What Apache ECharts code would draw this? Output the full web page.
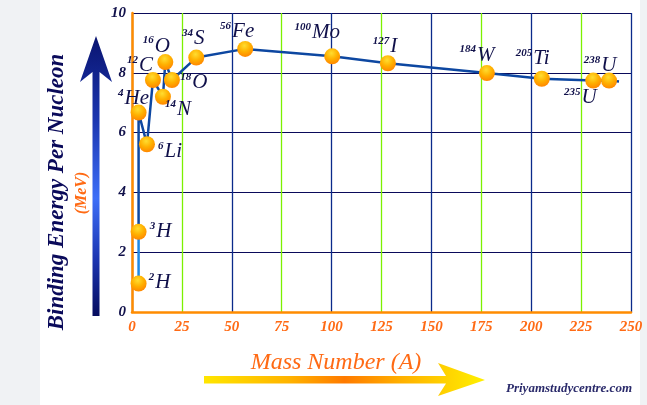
<!DOCTYPE html>
<html>
<head>
<meta charset="utf-8">
<script src="https://cdn.jsdelivr.net/npm/echarts@6/dist/echarts.min.js"></script>
<style>
html,body{margin:0;padding:0;}
#chart{width:647px;height:405px;background:linear-gradient(to right,#f0f2f4 0,#f0f2f4 40px,#ffffff 40px,#ffffff 640px,#f0f2f4 640px);}
</style>
</head>
<body>
<div id="chart"></div>
<script>
// ---- data ----
const massNumbers   = [3.3, 3.3, 3.3, 7.5, 10.5, 15.5, 16.7, 20, 32.2, 56.7, 100.3, 128.2, 177.8, 205.3, 231.1, 239];
const bindingEnergy = [0.95, 2.68, 6.67, 5.61, 7.76, 7.2, 8.36, 7.76, 8.51, 8.8, 8.55, 8.32, 7.99, 7.8, 7.74, 7.74];
const isotopeMass   = ['2', '3', '4', '6', '12', '14', '16', '18', '34', '56', '100', '127', '184', '205', '235', '238'];
const elementSymbol = ['H', 'H', 'He', 'Li', 'C', 'N', 'O', 'O', 'S', 'Fe', 'Mo', 'I', 'W', 'Ti', 'U', 'U'];
const curveTailMass   = [244];
const curveTailEnergy = [7.71];
const xAxisRange = [0, 250, 25];
const yAxisRange = [0, 10, 2];
const yTitle = 'Binding Energy Per Nucleon';
const yUnit = '(MeV)';
const xTitle = 'Mass Number (A)';
const credit = 'Priyamstudycentre.com';

// ---- layout (label offsets from each point, px) ----
const labelOffsets = [[21,-1],[22,0],[-5,-14],[23,7],[-13,-14],[15,13],[-9,-16],[22,3],[-3,-19],[-8,-17],[-15,-24],[-3,-17],[-10,-18],[-9,-20],[-13,17],[-9,-15]];

const FONT = '"Liberation Serif", "DejaVu Serif", serif';
const NAVY = '#10104a';
const ORANGE = '#ff6a14';

const pts = massNumbers.map((m, i) => [m, bindingEnergy[i]]);
const lightSeg = pts.slice(0, 2);
const darkSeg = pts.slice(1).concat(curveTailMass.map((m, i) => [m, curveTailEnergy[i]]));

const scatterData = pts.map((p, i) => ({
  value: p,
  label: { offset: labelOffsets[i] },
  sup: isotopeMass[i],
  sym: elementSymbol[i]
}));

const chart = echarts.init(document.getElementById('chart'), null, {renderer: 'canvas'});
const option = {
  animation: false,
  grid: { left: 132, right: 16, top: 13, bottom: 93, containLabel: false },
  xAxis: {
    type: 'value', min: xAxisRange[0], max: xAxisRange[1], interval: xAxisRange[2],
    axisLine: { show: true, lineStyle: { color: '#ff8c00', width: 2.5 } },
    axisTick: { show: false },
    axisLabel: { color: ORANGE, fontFamily: FONT, fontStyle: 'italic', fontWeight: 'bold', fontSize: 15, margin: 8 },
    splitLine: { show: true, showMinLine: true, showMaxLine: true, lineStyle: { color: ['#0b2a8a', '#7cf000'], width: 1.3 } }
  },
  yAxis: {
    type: 'value', min: yAxisRange[0], max: yAxisRange[1], interval: yAxisRange[2],
    axisLine: { show: true, lineStyle: { color: '#ff8c00', width: 2.5 } },
    axisTick: { show: false },
    axisLabel: { color: NAVY, fontFamily: FONT, fontStyle: 'italic', fontWeight: 'bold', fontSize: 15, margin: 6 },
    splitLine: { show: true, showMaxLine: true, lineStyle: { color: '#0a0a5a', width: 1.2 } }
  },
  graphic: [
    { type: 'text', silent: true, x: 57, y: 192, rotation: Math.PI / 2,
      style: { text: yTitle, fill: '#0a0a5a', font: 'italic bold 23px ' + FONT, align: 'center', verticalAlign: 'middle' } },
    { type: 'polygon', silent: true, z: 1,
      shape: { points: [[92.5,316],[99.5,316],[99.5,72],[112,82],[96,36],[80,82],[92.5,72]] },
      style: { fill: new echarts.graphic.LinearGradient(0, 0, 0, 1, [
        {offset: 0, color: '#0a1470'}, {offset: 0.3, color: '#1b36b0'}, {offset: 0.58, color: '#3d6ef7'},
        {offset: 0.8, color: '#1b34b0'}, {offset: 1, color: '#060c5e'}]) } },
    { type: 'text', silent: true, x: 82, y: 193, rotation: Math.PI / 2,
      style: { text: yUnit, fill: ORANGE, font: 'italic bold 16px ' + FONT, align: 'center', verticalAlign: 'middle' } },
    { type: 'polygon', silent: true, z: 1,
      shape: { points: [[204,376],[446,376],[438,363],[485,380],[438,396],[446,383.5],[204,383.5]] },
      style: { fill: new echarts.graphic.LinearGradient(0, 0, 1, 0, [
        {offset: 0, color: '#ffe600'}, {offset: 0.3, color: '#ffb400'}, {offset: 0.5, color: '#ff7a00'},
        {offset: 0.7, color: '#ffb000'}, {offset: 1, color: '#fff000'}]) } },
    { type: 'text', silent: true, x: 336, y: 363,
      style: { text: xTitle, fill: ORANGE, font: 'italic 24px ' + FONT, align: 'center', verticalAlign: 'middle' } },
    { type: 'text', silent: true, x: 569, y: 389,
      style: { text: credit, fill: '#2b2b6b', font: 'italic bold 13px ' + FONT, align: 'center', verticalAlign: 'middle' } }
  ],
  series: [
    { type: 'line', data: lightSeg, symbol: 'none', lineStyle: { color: '#1e88e5', width: 2.5 }, z: 2 },
    { type: 'line', data: darkSeg, symbol: 'none', lineStyle: { color: '#0d47a1', width: 2.5 }, z: 2 },
    { type: 'scatter', data: scatterData, symbol: 'circle', symbolSize: 16, z: 5,
      itemStyle: { opacity: 1, color: new echarts.graphic.RadialGradient(0.45, 0.3, 0.75, [
        {offset: 0, color: '#ffdd30'}, {offset: 0.5, color: '#ffb000'}, {offset: 1, color: '#ff8000'}]) },
      label: {
        show: true, position: 'inside',
        formatter: p => '{s|' + p.data.sup + '}{e|' + p.data.sym + '}',
        rich: {
          s: { fontSize: 11, fontFamily: FONT, fontStyle: 'italic', fontWeight: 'bold', color: NAVY, verticalAlign: 'top', lineHeight: 22, padding: [0, 1, 0, 0] },
          e: { fontSize: 21, fontFamily: FONT, fontStyle: 'italic', color: NAVY, lineHeight: 22 }
        }
      }
    }
  ]
};
chart.setOption(option);
</script>
</body>
</html>
